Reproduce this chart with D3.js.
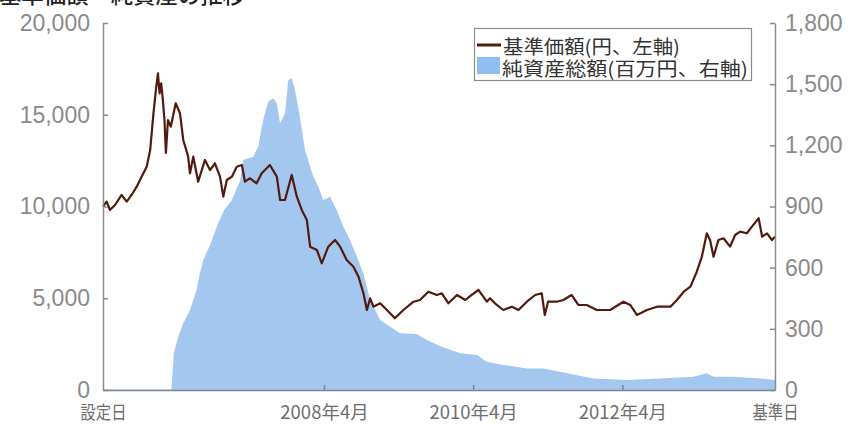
<!DOCTYPE html>
<html><head><meta charset="utf-8">
<script src="https://cdn.jsdelivr.net/npm/d3@7"></script>
<style>body{margin:0;background:#fff} svg{display:block}</style>
</head><body>
<svg id="chart" width="853" height="430"></svg>
<script>
const titleText = "基準価額・純資産の推移";
const legendLabels = ["基準価額(円、左軸)", "純資産総額(百万円、右軸)"];

const priceDates = ["2005-04-15","2005-05-03","2005-05-19","2005-06-13","2005-07-15","2005-08-09","2005-09-02","2005-09-27","2005-10-21","2005-11-15","2005-12-02","2005-12-18","2005-12-30","2006-01-09","2006-01-17","2006-01-25","2006-02-02","2006-02-10","2006-02-17","2006-02-27","2006-03-13","2006-04-06","2006-04-27","2006-05-13","2006-06-06","2006-06-15","2006-07-01","2006-07-25","2006-08-27","2006-09-21","2006-10-15","2006-11-09","2006-11-25","2006-12-12","2007-01-06","2007-01-30","2007-02-24","2007-03-11","2007-04-05","2007-05-07","2007-06-01","2007-07-11","2007-08-14","2007-08-30","2007-09-23","2007-10-26","2007-11-20","2007-12-14","2008-01-08","2008-01-24","2008-02-26","2008-03-21","2008-04-22","2008-05-25","2008-06-19","2008-07-21","2008-08-23","2008-09-17","2008-10-11","2008-10-28","2008-11-13","2008-11-29","2009-01-01","2009-02-03","2009-03-14","2009-04-25","2009-06-13","2009-07-15","2009-08-25","2009-10-05","2009-10-30","2009-12-01","2010-01-12","2010-02-22","2010-03-25","2010-04-27","2010-05-21","2010-06-07","2010-06-23","2010-07-17","2010-08-27","2010-10-08","2010-11-09","2010-12-20","2011-01-30","2011-03-03","2011-03-18","2011-04-03","2011-05-15","2011-06-17","2011-07-27","2011-08-29","2011-10-09","2011-11-28","2012-02-01","2012-04-06","2012-05-09","2012-06-11","2012-07-30","2012-09-17","2012-11-22","2012-12-24","2013-01-26","2013-02-28","2013-03-31","2013-04-25","2013-05-19","2013-06-04","2013-06-21","2013-07-15","2013-08-09","2013-09-10","2013-10-05","2013-10-29","2013-12-01","2013-12-26","2014-01-28","2014-02-14","2014-03-10","2014-04-03","2014-04-18"];
const priceValues = [10000,10262,9810,10083,10628,10262,10628,11080,11625,12170,13080,15080,16350,17260,16170,16715,15805,14715,12917,14715,14350,15625,15080,13625,12715,11810,12715,11352,12535,11990,12355,11625,10535,11445,11625,12170,12263,11352,11538,11265,11810,12263,11625,10355,10355,11718,10535,9810,9265,7810,7630,6905,7810,8175,7810,7085,6720,6175,5270,4360,4998,4540,4725,4360,3908,4360,4812,4905,5357,5178,5270,4725,5178,4905,5178,5450,5085,4812,4998,4725,4360,4540,4360,4812,5178,5270,4088,4812,4812,4905,5178,4633,4633,4360,4360,4812,4633,4088,4360,4540,4540,4905,5357,5630,6447,7265,8540,8175,7265,8175,8268,7810,8448,8627,8540,8900,9358,8355,8540,8175,8355];

const assetDates = ["2005-04-15","2006-03-16","2006-03-28","2006-04-18","2006-05-13","2006-06-15","2006-07-17","2006-08-02","2006-08-19","2006-09-21","2006-10-24","2006-11-29","2007-01-06","2007-02-16","2007-03-03","2007-04-20","2007-05-15","2007-06-08","2007-07-03","2007-07-27","2007-08-14","2007-08-30","2007-09-23","2007-10-09","2007-10-26","2007-11-11","2007-12-06","2007-12-30","2008-01-24","2008-02-09","2008-03-04","2008-03-28","2008-04-30","2008-06-02","2008-07-05","2008-08-06","2008-09-09","2008-10-11","2008-11-13","2009-01-01","2009-02-19","2009-04-08","2009-06-29","2009-08-17","2009-11-07","2010-01-28","2010-04-19","2010-06-07","2010-08-27","2010-12-20","2011-03-11","2011-05-31","2011-11-11","2012-04-22","2012-10-03","2013-03-14","2013-05-19","2013-06-21","2013-09-27","2014-02-05","2014-04-18"];
const assetValues = [3,3,181,261,327,392,490,572,638,711,801,883,932,1030,1128,1144,1193,1324,1414,1431,1406,1308,1357,1521,1529,1472,1333,1177,1095,1046,997,932,948,883,801,736,654,572,441,343,310,278,275,245,208,180,172,139,123,106,106,90,57,49,57,65,82,65,65,57,49];

const leftTicks = [0, 5000, 10000, 15000, 20000];
const rightTicks = [0, 300, 600, 900, 1200, 1500, 1800];
const xTickDates = ["2005-04-15", "2008-04-01", "2010-04-01", "2012-04-01", "2014-04-18"];
const xTickLabels = ["設定日", "2008年4月", "2010年4月", "2012年4月", "基準日"];

const parse = d3.timeParse("%Y-%m-%d");
const price = priceDates.map((d, i) => ({date: parse(d), v: priceValues[i]}));
const assets = assetDates.map((d, i) => ({date: parse(d), v: assetValues[i]}));
const xTicks = xTickDates.map(parse);

const svg = d3.select("#chart");
const L = 103, R = 775, T = 23, B = 390;

const x = d3.scaleTime().domain([xTicks[0], xTicks[xTicks.length - 1]]).range([L, R]);
const yL = d3.scaleLinear().domain([0, 20000]).range([B, T]);
const yR = d3.scaleLinear().domain([0, 1800]).range([B, T]);

const blue = "#a3c7ee";
const brown = "#521a0e";
const numFont = "'Liberation Sans', Arial, sans-serif";
const jpFont = "'Noto Sans CJK JP', sans-serif";

// title (cut at top edge, as in the reference)
svg.append("text").attr("x", -1).attr("y", 3).attr("font-family", jpFont)
  .attr("font-size", 22).attr("font-weight", 500).attr("fill", "#222")
  .attr("textLength", 246).attr("lengthAdjust", "spacingAndGlyphs").text(titleText);

// area
svg.append("path").datum(assets)
  .attr("fill", blue)
  .attr("d", d3.area().x(d => x(d.date)).y0(yR(0)).y1(d => yR(d.v)));

// line
svg.append("path").datum(price)
  .attr("fill", "none").attr("stroke", brown).attr("stroke-width", 2.2)
  .attr("stroke-linejoin", "round")
  .attr("d", d3.line().x(d => x(d.date)).y(d => yL(d.v)));

// axes
const gL = svg.append("g").attr("transform", `translate(${L},0)`)
  .call(d3.axisLeft(yL).tickValues(leftTicks).tickSize(-5).tickSizeOuter(0).tickPadding(13).tickFormat(d3.format(",")));
const gR = svg.append("g").attr("transform", `translate(${R},0)`)
  .call(d3.axisRight(yR).tickValues(rightTicks).tickSize(-5).tickSizeOuter(0).tickPadding(10).tickFormat(d3.format(",")));
const gB = svg.append("g").attr("transform", `translate(0,${B})`)
  .call(d3.axisBottom(x).tickValues(xTicks).tickSize(-5).tickSizeOuter(0).tickPadding(16)
    .tickFormat((d, i) => xTickLabels[i]));

[gL, gR].forEach(g => {
  g.selectAll(".domain").attr("stroke", "#8c8c8c").attr("stroke-width", 1.5);
  g.selectAll(".tick line").attr("stroke", "#8c8c8c").attr("stroke-width", 1.5);
  g.selectAll(".tick text").attr("font-family", numFont).attr("font-size", 23).attr("fill", "#8a8a8a");
});
gB.selectAll(".domain").attr("stroke", "#7a8494").attr("stroke-width", 1.5);
gB.selectAll(".tick line").attr("stroke", "#7a8494").attr("stroke-width", 1.5)
  .attr("display", (d, i) => (i === 0 || i === xTicks.length - 1) ? "none" : null);
gB.selectAll(".tick text").attr("font-family", jpFont).attr("font-size", 18.5).attr("fill", "#6e6e6e")
  .each(function(d, i) {
    if (i === 0 || i === xTicks.length - 1) {
      d3.select(this).attr("textLength", 46).attr("lengthAdjust", "spacingAndGlyphs");
    }
  });

// legend
const lg = svg.append("g");
lg.append("rect").attr("x", 474.5).attr("y", 28.5).attr("width", 277).attr("height", 52)
  .attr("fill", "#fff").attr("stroke", "#8c8c8c").attr("stroke-width", 1.2);
lg.append("line").attr("x1", 477).attr("x2", 501).attr("y1", 45).attr("y2", 45)
  .attr("stroke", brown).attr("stroke-width", 3);
lg.append("rect").attr("x", 477).attr("y", 57).attr("width", 23).attr("height", 17).attr("fill", "#8fbff0");
const legendLen = [177, 246];
lg.selectAll("text.lab").data(legendLabels).join("text")
  .attr("class", "lab")
  .attr("x", (d, i) => i === 0 ? 503 : 502)
  .attr("y", (d, i) => i === 0 ? 45 : 67)
  .attr("dominant-baseline", "central")
  .attr("font-family", jpFont).attr("font-size", 19).attr("fill", "#333")
  .attr("textLength", (d, i) => legendLen[i]).attr("lengthAdjust", "spacingAndGlyphs")
  .text(d => d);
</script>
</body></html>
